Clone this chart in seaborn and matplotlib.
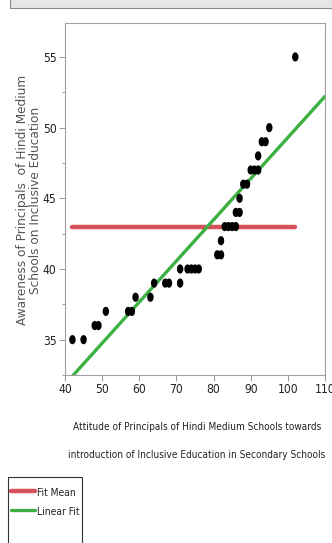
import matplotlib
matplotlib.use("Agg")
import matplotlib.pyplot as plt
import numpy as np
import pandas as pd
import seaborn as sns
from matplotlib import font_manager
from matplotlib.path import Path
from matplotlib.patches import Rectangle

# values
attitude = [42, 45, 48, 49, 51, 57, 58, 59, 63, 64, 67, 68, 71, 71, 73, 74, 75, 76,
            81, 82, 82, 83, 84, 85, 86, 86, 87, 87, 88, 89, 90, 91, 92, 92, 93, 94, 95, 102]
awareness = [35, 35, 36, 36, 37, 37, 37, 38, 38, 39, 39, 39, 39, 40, 40, 40, 40, 40,
             41, 41, 42, 43, 43, 43, 43, 44, 44, 45, 46, 46, 47, 47, 47, 48, 49, 49, 50, 55]
fit_mean = 43.0
fit_intercept = 20.2
fit_slope = 0.291
x_ticks = [40, 50, 60, 70, 80, 90, 100, 110]
y_ticks = [35, 40, 45, 50, 55]
y_title = ["Awareness of Principals  of Hindi Medium", "Schools on Inclusive Education"]
x_title = ["Attitude of Principals of Hindi Medium Schools towards",
           "introduction of Inclusive Education in Secondary Schools"]

sns.set_style("white")


def narrow_font():
    # a regular-weight condensed sans face if one is installed, else Liberation Sans
    for f in font_manager.fontManager.ttflist:
        n = f.name.lower()
        if "serif" in n or "mono" in n:
            continue
        if f.style != "normal" or f.weight not in (400, "normal", "regular", "book"):
            continue
        if "narrow" in n or "condensed" in n or "condensed" in str(f.stretch).lower():
            return font_manager.FontProperties(fname=f.fname)
    return font_manager.FontProperties(family="Liberation Sans")


fp = narrow_font()

df = pd.DataFrame({"attitude": attitude, "awareness": awareness})

fig = plt.figure(figsize=(3.32, 5.43), dpi=100)
W, H = 332, 543

# header strip cut off at the top
fig.patches.append(Rectangle((10 / W, 1 - 8 / H), 1, 0.05, transform=fig.transFigure,
                             facecolor="#e6e6e6", edgecolor="#8a8a8a", lw=0.8))

ax = fig.add_axes([65 / W, 1 - 375 / H, 260 / W, 352 / H])

t = np.linspace(0, 2 * np.pi, 30)
oval = Path(np.column_stack([0.7 * np.cos(t), np.sin(t)]), closed=True)
sns.scatterplot(data=df, x="attitude", y="awareness", ax=ax, marker=oval,
                s=44, color="black", edgecolor="none", legend=False, zorder=3)

mean_df = pd.DataFrame({"x": [min(attitude), max(attitude)], "y": [fit_mean, fit_mean]})
sns.lineplot(data=mean_df, x="x", y="y", ax=ax, color="#d8505c", lw=3.2, label="Fit Mean", zorder=2)

lx = np.array([x_ticks[0], x_ticks[-1]])
lin_df = pd.DataFrame({"x": lx, "y": fit_intercept + fit_slope * lx})
sns.lineplot(data=lin_df, x="x", y="y", ax=ax, color="#3cb043", lw=2.4, label="Linear Fit", zorder=2)

ax.set_xlim(40, 110)
ax.set_ylim(32.6, 57.4)
ax.set_xticks(x_ticks)
ax.set_yticks(y_ticks)
ax.set_yticks(np.arange(32.5, 57.5, 2.5), minor=True)
ax.tick_params(axis="both", which="major", direction="out", length=4, width=0.6,
               color="#888888", pad=2, left=True, bottom=True)
ax.tick_params(axis="y", which="minor", direction="out", length=2.5, width=0.6,
               color="#888888", left=True)
for sp in ax.spines.values():
    sp.set_color("#a0a0a0")
    sp.set_linewidth(0.8)
ax.set_xlabel("")
ax.set_ylabel("")

# y title: two rotated lines
for txt, xp in zip(y_title, [23, 36]):
    fig.text(xp / W, 1 - 200 / H, txt, rotation=90, ha="center", va="center",
             fontsize=8.7, color="#555555", family="DejaVu Sans")

# x title: two lines in the narrow face
xt = []
for txt, yp in zip(x_title, [427, 455]):
    xt.append(fig.text(197 / W, 1 - yp / H, txt, ha="center", va="center",
                       fontproperties=fp, color="#222222"))

leg = ax.legend(loc="upper left", bbox_to_anchor=(11 / W, 1 - 486 / H),
                bbox_transform=fig.transFigure, frameon=False,
                prop=fp, handlelength=1.7, handletextpad=0.15,
                labelspacing=0.55, borderpad=0, borderaxespad=0)
fig.patches.append(Rectangle((8 / W, -0.05), 74 / W, 0.05 + 66 / H, transform=fig.transFigure,
                             facecolor="none", edgecolor="#333333", lw=0.8))

# size the narrow texts to the widths seen in the reference
fig.canvas.draw()
r = fig.canvas.get_renderer()
size = 10 * 247 / xt[0].get_window_extent(r).width
for tx in xt:
    tx.set_fontsize(size)
tick_size = size * 1.2
for lab in ax.get_xticklabels() + ax.get_yticklabels():
    lab.set_fontproperties(fp)
    lab.set_fontsize(tick_size)
    lab.set_color("#222222")
for tx in leg.get_texts():
    tx.set_fontsize(size * 1.02)
    tx.set_color("#222222")

fig.savefig("out.png", dpi=100)
